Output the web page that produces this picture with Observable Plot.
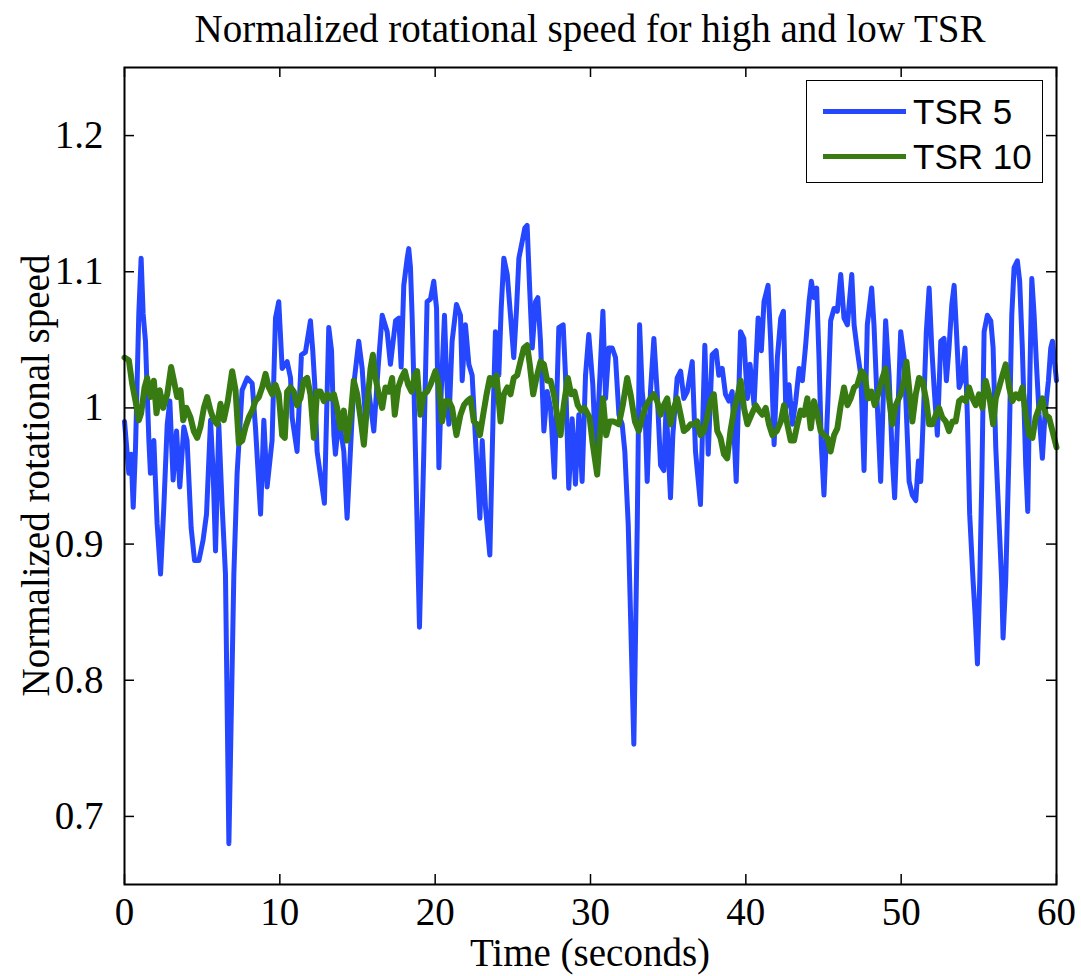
<!DOCTYPE html>
<html>
<head>
<meta charset="utf-8">
<script src="https://cdn.jsdelivr.net/npm/d3@7"></script>
<script src="https://cdn.jsdelivr.net/npm/@observablehq/plot@0.6"></script>
<style>
  html, body { margin: 0; padding: 0; background: #fff; }
  #wrap { position: relative; width: 1081px; height: 976px; background: #fff; font-family: "Liberation Serif", "Times New Roman", serif; color: #000; }
  #wrap svg { position: absolute; left: 0; top: 0; }
  .lbl { position: absolute; font-size: 39px; line-height: 39px; white-space: nowrap; text-align: center; }
  #legend { position: absolute; left: 806px; top: 80px; width: 235px; height: 101px; border: 1.5px solid #000; background: #fff; }
  .key { position: absolute; left: 16px; width: 83px; height: 5px; }
  .ktxt { position: absolute; left: 106px; font-family: "Liberation Sans", Arial, sans-serif; font-size: 35px; line-height: 35px; white-space: nowrap; }
</style>
</head>
<body>
<div id="wrap">
  <div class="lbl" id="title" style="left:124px; width:932px; top:9px;">Normalized rotational speed for high and low TSR</div>
  <div class="lbl" id="xlabel" style="left:124px; width:932px; top:933px;">Time (seconds)</div>
  <div class="lbl" id="ylabel" style="left:-373.5px; width:817px; top:456px; height:39px; transform: rotate(-90deg);">Normalized rotational speed</div>
</div>
<script>
// ---- data ----
const seriesNames = ["TSR 5", "TSR 10"];
const seriesColors = ["#2447ff", "#377b12"];
const xTicks = [0, 10, 20, 30, 40, 50, 60];
const yTicks = [0.7, 0.8, 0.9, 1.0, 1.1, 1.2];
const yTickLabels = ["0.7", "0.8", "0.9", "1", "1.1", "1.2"];

// TSR 5: [time (s), normalized speed]
const tsr5 = [
[0,0.99],[0.28,0.952],[0.43,0.966],[0.56,0.927],[0.71,0.971],[0.92,1.069],[1.07,1.11],[1.2,1.069],[1.35,1.049],[1.57,0.976],
[1.67,0.952],[1.89,0.976],[2.1,0.915],[2.32,0.878],[2.53,0.927],[2.75,0.988],[2.92,1.005],[3.13,0.947],[3.35,0.983],[3.56,0.942],
[3.82,0.986],[4.03,0.976],[4.29,0.912],[4.51,0.888],[4.79,0.888],[5.06,0.903],[5.28,0.922],[5.54,0.991],[5.71,0.952],[5.86,0.895],
[6.07,0.988],[6.29,0.927],[6.5,0.878],[6.72,0.68],[7.04,0.878],[7.25,0.952],[7.57,1.013],[7.9,1.022],[8.22,1.018],[8.43,0.986],
[8.76,0.922],[8.97,0.991],[9.18,0.942],[9.5,0.976],
[9.72,1.066],[9.93,1.078],[10.15,1.029],[10.47,1.034],[10.69,1.022],[10.79,0.993],[11.11,0.968],[11.39,1.039],[11.65,1.041],[11.97,1.064],
[12.12,1.042],[12.25,1.017],[12.4,0.968],[12.62,0.95],[12.87,0.93],[13.15,1.059],[13.33,1.042],[13.48,0.98],[13.58,0.966],[13.8,0.993],
[14.12,0.968],[14.33,0.919],[14.55,0.97],[14.76,1.017],[15.08,1.049],[15.3,1.029],[15.51,0.993],[15.73,1.012],[16.05,0.983],[16.33,1.03],
[16.59,1.068],[16.91,1.056],[17.12,1.032],[17.45,1.064],[17.66,1.066],[17.81,1.03],[17.98,1.09],[18.2,1.11],[18.3,1.117],[18.41,1.103],
[18.52,1.066],[18.63,1.017],[18.73,0.968],[18.99,0.839],[19.27,0.968],[19.48,1.078],
[19.7,1.08],[19.91,1.093],[20.09,1.073],[20.24,0.956],[20.39,1.012],[20.6,1.068],[20.73,1.024],[20.88,0.988],[21.09,1.049],[21.37,1.076],
[21.63,1.068],[21.74,1.02],[21.95,1.061],[22.17,1.032],[22.38,1.024],[22.6,0.976],[22.88,0.919],[23.03,0.976],[23.24,0.927],[23.52,0.892],
[23.73,0.995],[23.88,1.056],[24.1,1.024],[24.25,1.073],[24.42,1.11],[24.64,1.098],[24.85,1.068],[25.06,1.037],[25.24,1.073],[25.39,1.11],
[25.6,1.122],[25.77,1.132],[25.92,1.134],[26.09,1.086],[26.25,1.044],[26.46,1.078],[26.61,1.081],[26.78,1.049],[27.0,0.983],[27.21,1.012],
[27.43,1.0],[27.68,0.949],[27.96,1.059],[28.24,1.061],[28.39,1.024],[28.6,0.941],[28.82,0.992],[29.03,0.944],[29.25,0.995],[29.46,0.946],
[29.68,1.024],[29.89,1.054],
[30.15,1.017],[30.32,0.968],[30.54,1.007],[30.8,1.071],[30.97,1.007],[31.18,1.044],[31.4,1.044],[31.61,1.037],[31.83,0.995],[32.04,0.988],
[32.21,0.968],[32.43,0.914],[32.79,0.753],[33.01,0.914],[33.16,1.061],[33.33,1.012],[33.54,0.988],[33.65,0.946],[33.86,1.012],[34.08,1.051],
[34.29,1.012],[34.51,0.958],[34.72,0.954],[34.87,1.002],[35.15,0.934],[35.3,0.98],[35.58,1.022],[35.8,1.027],[36.01,1.007],[36.23,1.012],
[36.55,1.034],[36.76,0.968],[37.08,0.929],[37.36,1.046],[37.58,0.966],[37.83,1.039],[38.09,1.042],[38.26,1.024],[38.48,1.029],[38.69,1.01],
[38.91,1.005],[39.12,1.012],[39.38,0.946],[39.66,1.056],[39.87,1.051],
[40.1,1.007],[40.27,1.032],[40.53,1.002],[40.79,1.066],[41.0,1.042],[41.17,1.078],[41.43,1.09],[41.6,1.049],[41.82,0.973],[42.03,1.037],
[42.25,1.066],[42.42,1.071],[42.57,1.0],[42.78,1.017],[43.0,0.988],[43.21,1.005],[43.43,1.029],[43.64,1.02],[43.85,1.046],[44.07,1.078],
[44.22,1.093],[44.39,1.081],[44.56,1.088],[44.71,1.037],[44.86,0.973],[45.03,0.936],[45.29,1.007],[45.46,1.064],[45.68,1.073],[45.89,1.071],
[46.11,1.098],[46.32,1.066],[46.54,1.061],[46.82,1.098],[46.97,1.061],[47.18,1.042],[47.4,1.024],[47.61,0.954],[47.82,1.061],[48.1,1.088],
[48.25,1.061],[48.47,1.0],[48.68,0.946],[49.0,1.064],[49.22,1.024],[49.43,0.963],[49.58,0.934],
[49.82,1.007],[49.97,1.056],[50.19,1.037],[50.34,0.995],[50.51,0.946],[50.72,0.936],[50.94,0.932],[51.11,0.961],[51.26,0.946],[51.47,1.007],
[51.62,1.056],[51.8,1.088],[51.97,1.044],[52.12,1.015],[52.33,0.98],[52.55,1.049],[52.76,1.051],[52.91,1.02],[53.08,1.044],[53.26,1.076],
[53.41,1.09],[53.56,1.056],[53.73,1.015],[53.9,1.02],[54.11,1.044],[54.26,0.995],[54.41,0.922],[54.63,0.873],[54.76,0.848],[54.91,0.812],
[55.06,0.873],[55.19,0.946],[55.34,1.056],[55.55,1.068],[55.77,1.064],[55.92,1.044],[56.09,0.971],[56.26,0.927],[56.47,0.873],[56.56,0.831],
[56.73,0.873],[56.95,0.971],[57.12,1.068],[57.27,1.103],[57.48,1.108],[57.63,1.093],[57.8,1.044],[58.02,0.958],[58.15,0.924],[58.28,1.02],
[58.41,1.095],[58.56,1.068],[58.71,1.032],[58.88,0.995],[59.09,0.963],[59.26,0.995],[59.48,1.02],[59.63,1.044],[59.74,1.049],[60,1.02]
];

// TSR 10: [time (s), normalized speed]
const tsr10 = [
[0,1.037],[0.28,1.035],[0.49,1.018],[0.71,1.005],[0.92,0.991],[1.07,0.996],[1.29,1.015],[1.46,1.022],[1.67,1.008],[1.89,1.02],
[2.06,0.996],[2.27,1.013],[2.49,1.0],[2.75,1.01],[3.0,1.03],[3.18,1.02],[3.39,1.008],[3.61,1.013],[3.78,0.991],[3.99,1.0],
[4.25,0.993],[4.46,0.983],[4.68,0.978],[4.89,0.986],[5.11,1.0],[5.32,1.008],[5.54,0.998],[5.75,0.991],[5.97,0.988],[6.18,1.003],
[6.39,0.991],[6.65,1.005],[6.93,1.027],[7.15,1.013],[7.36,0.974],[7.58,0.976],[7.79,0.986],[8.0,0.993],[8.22,0.998],[8.43,1.005],
[8.65,1.008],[8.86,1.015],[9.08,1.025],[9.29,1.015],[9.51,1.01],
[9.72,1.017],[9.93,1.01],[10.15,0.98],[10.32,0.978],[10.47,1.012],[10.69,1.015],[10.9,1.012],[11.11,1.002],[11.33,1.007],[11.54,1.02],
[11.76,1.022],[11.97,1.01],[12.19,0.978],[12.4,1.012],[12.62,1.012],[12.83,1.005],[13.05,1.01],[13.26,1.007],[13.48,1.01],[13.69,1.0],
[13.9,0.985],[14.12,0.998],[14.33,0.976],[14.55,0.993],[14.76,1.02],[14.98,1.01],[15.19,0.993],[15.41,0.973],[15.62,1.002],[15.84,1.029],
[15.99,1.039],[16.16,1.022],[16.37,1.01],[16.59,1.0],[16.8,1.015],[17.02,1.012],[17.23,1.022],[17.4,0.995],[17.62,1.015],[17.83,1.022],
[18.05,1.027],[18.26,1.017],[18.48,1.012],[18.69,1.024],[18.84,1.027],[19.05,0.995],[19.27,1.01],[19.48,1.012],
[19.7,1.017],[20.02,1.027],[20.24,1.017],[20.45,0.99],[20.67,1.005],[20.88,1.005],[21.09,1.0],[21.37,0.98],[21.63,0.995],[21.85,1.002],
[22.06,1.005],[22.28,1.007],[22.49,0.99],[22.7,0.988],[22.88,0.98],[23.09,0.995],[23.31,1.01],[23.52,1.022],[23.73,1.017],[23.95,1.024],
[24.21,0.99],[24.42,1.01],[24.64,1.015],[24.85,1.01],[25.06,1.022],[25.28,1.024],[25.49,1.034],[25.71,1.044],[25.92,1.046],[26.09,1.032],
[26.31,1.01],[26.52,1.022],[26.78,1.034],[27.0,1.032],[27.21,1.02],[27.43,1.02],[27.64,1.01],[27.85,0.995],[28.07,0.98],[28.28,1.002],
[28.54,1.022],[28.76,1.01],[28.97,1.012],[29.18,1.002],[29.4,0.998],[29.61,1.0],
[29.94,0.993],[30.15,0.973],[30.43,0.951],[30.65,0.988],[30.8,1.007],[31.01,0.98],[31.23,0.99],[31.5,0.99],[31.83,0.988],[32.08,1.002],
[32.36,1.022],[32.58,1.01],[32.86,0.99],[33.11,0.983],[33.37,0.995],[33.59,1.002],[33.86,1.007],[34.08,1.01],[34.29,1.005],[34.51,0.995],
[34.72,1.002],[34.94,1.007],[35.15,0.988],[35.37,1.0],[35.58,1.007],[35.8,0.995],[36.01,0.983],[36.23,0.985],[36.44,0.988],[36.65,0.988],
[36.87,0.99],[37.08,0.98],[37.3,0.983],[37.51,0.993],[37.73,1.005],[37.94,1.01],[38.16,0.983],[38.37,0.978],[38.59,0.966],[38.8,0.963],
[39.01,0.983],[39.23,0.998],[39.44,1.007],
[39.67,1.02],[39.88,1.0],[40.1,0.988],[40.36,0.995],[40.64,1.002],[40.85,0.998],[41.06,0.995],[41.28,1.0],[41.49,0.988],[41.71,0.98],
[41.99,0.983],[42.25,0.99],[42.46,1.002],[42.67,0.988],[42.89,0.976],[43.1,0.976],[43.32,0.988],[43.53,0.998],[43.75,0.995],[43.96,1.007],
[44.18,0.985],[44.39,1.005],[44.61,0.995],[44.82,0.983],[45.03,0.98],[45.25,0.978],[45.46,0.968],[45.68,0.98],[45.89,0.985],[46.11,1.002],
[46.32,1.015],[46.54,1.002],[46.75,1.007],[46.97,1.015],[47.18,1.017],[47.44,1.027],[47.65,1.024],[47.87,1.007],[48.08,1.012],[48.3,1.002],
[48.51,1.01],[48.79,1.022],[49.0,1.029],[49.22,1.007],[49.43,0.988],
[49.65,1.002],[49.97,1.01],[50.19,1.02],[50.34,1.034],[50.55,1.01],[50.72,0.99],[50.94,1.01],[51.15,1.022],[51.37,1.02],[51.62,1.005],
[51.8,0.988],[52.01,0.988],[52.23,0.995],[52.44,1.0],[52.65,0.993],[52.87,0.99],[53.08,0.983],[53.3,0.99],[53.51,0.99],[53.73,1.005],
[53.94,1.007],[54.16,1.005],[54.37,1.015],[54.59,1.007],[54.8,1.002],[55.01,1.01],[55.23,1.0],[55.44,1.02],[55.66,1.01],[55.92,0.988],
[56.09,1.007],[56.3,1.015],[56.52,1.024],[56.73,1.032],[56.95,1.015],[57.16,1.005],[57.38,1.01],[57.59,1.007],[57.8,1.015],[58.02,0.995],
[58.23,0.98],[58.45,0.978],[58.66,0.993],[58.88,1.0],[59.09,1.007],[59.31,0.995],[59.52,0.993],[59.74,0.983],[60,0.971]
];

// ---- chart ----
const W = 1081, H = 976;
const mT = 67, mB = 92, mL = 124, mR = 25;
const frameH = H - mT - mB, frameW = W - mL - mR;
const tick = 10;

const chart = Plot.plot({
  width: W, height: H,
  marginTop: mT, marginBottom: mB, marginLeft: mL, marginRight: mR,
  style: { fontFamily: "'Liberation Serif', 'Times New Roman', serif", color: "#000", background: "transparent", overflow: "visible" },
  x: { domain: [0, 60] },
  y: { domain: [0.65, 1.25] },
  marks: [
    Plot.axisX(xTicks, { tickSize: 0, tickPadding: 13, fontSize: 39, label: null, tickFormat: d => String(d) }),
    Plot.axisY(yTicks, { tickSize: 0, tickPadding: 21, fontSize: 39, label: null, tickFormat: (d, i) => yTickLabels[i] }),
    Plot.line(tsr5, { x: d => d[0], y: d => d[1], stroke: seriesColors[0], strokeWidth: 5, strokeLinejoin: "round", strokeLinecap: "round" }),
    Plot.line(tsr10, { x: d => d[0], y: d => d[1], stroke: seriesColors[1], strokeWidth: 6, strokeLinejoin: "round", strokeLinecap: "round" }),
    // inward tick marks on all four sides
    Plot.tickX(xTicks, { x: d => d, insetTop: frameH - tick, stroke: "#000", strokeWidth: 1.5 }),
    Plot.tickX(xTicks, { x: d => d, insetBottom: frameH - tick, stroke: "#000", strokeWidth: 1.5 }),
    Plot.tickY(yTicks, { y: d => d, insetRight: frameW - tick, stroke: "#000", strokeWidth: 1.5 }),
    Plot.tickY(yTicks, { y: d => d, insetLeft: frameW - tick, stroke: "#000", strokeWidth: 1.5 }),
    Plot.frame({ stroke: "#000", strokeWidth: 2 })
  ]
});

const wrap = document.getElementById("wrap");
wrap.insertBefore(chart, wrap.firstChild);

// legend (inside the axes, top right)
const legend = document.createElement("div");
legend.id = "legend";
const keyTops = [28, 73];
seriesNames.forEach((name, i) => {
  const k = document.createElement("div");
  k.className = "key";
  k.style.top = keyTops[i] + "px";
  k.style.background = seriesColors[i];
  legend.appendChild(k);
  const t = document.createElement("div");
  t.className = "ktxt";
  t.style.top = (keyTops[i] - 15) + "px";
  t.textContent = name;
  legend.appendChild(t);
});
wrap.appendChild(legend);
</script>
</body>
</html>
